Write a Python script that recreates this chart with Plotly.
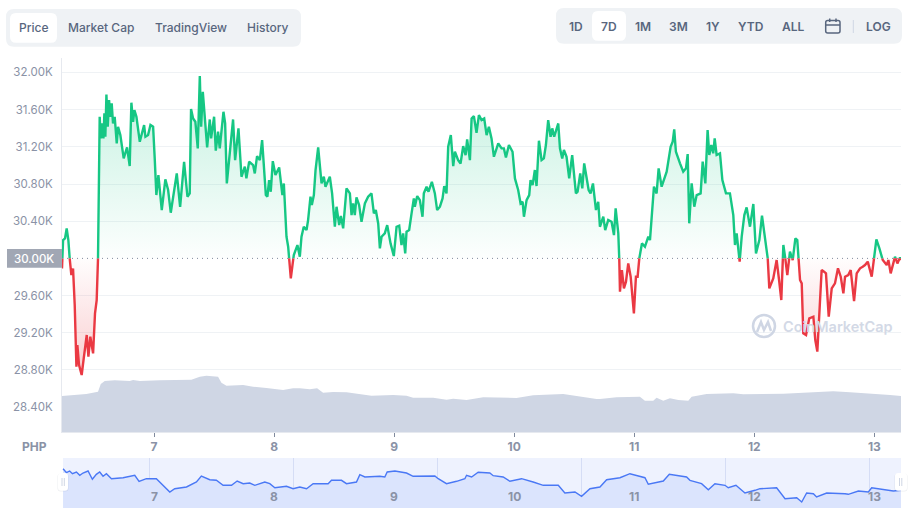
import plotly.graph_objects as go

# ---------- DATA ----------
PRICE_DAY = [
    6.233, 6.242, 6.258, 6.272, 6.286, 6.297, 6.311, 6.325, 6.339, 6.353,
    6.361, 6.375, 6.397, 6.414, 6.439, 6.453, 6.469, 6.492, 6.508, 6.522,
    6.533, 6.542, 6.547, 6.556, 6.567, 6.578, 6.586, 6.594, 6.603, 6.614,
    6.625, 6.636, 6.647, 6.658, 6.672, 6.689, 6.700, 6.719, 6.747, 6.775,
    6.797, 6.811, 6.825, 6.836, 6.853, 6.881, 6.917, 6.928, 6.950, 6.970,
    6.992, 7.006, 7.019, 7.036, 7.064, 7.094, 7.117, 7.139, 7.164, 7.189,
    7.217, 7.250, 7.278, 7.297, 7.308, 7.325, 7.344, 7.364, 7.381, 7.392,
    7.406, 7.422, 7.442, 7.464, 7.475, 7.500, 7.514, 7.533, 7.547, 7.578,
    7.592, 7.606, 7.631, 7.658, 7.675, 7.703, 7.728, 7.756, 7.769, 7.792,
    7.825, 7.839, 7.858, 7.881, 7.900, 7.914, 7.931, 7.944, 7.958, 7.972,
    7.989, 8.011, 8.042, 8.069, 8.081, 8.103, 8.117, 8.139, 8.153, 8.164,
    8.194, 8.214, 8.228, 8.247, 8.270, 8.283, 8.303, 8.314, 8.331, 8.345,
    8.367, 8.381, 8.395, 8.414, 8.428, 8.464, 8.483, 8.506, 8.520, 8.542,
    8.556, 8.575, 8.603, 8.631, 8.645, 8.658, 8.672, 8.686, 8.708, 8.728,
    8.756, 8.783, 8.811, 8.831, 8.847, 8.867, 8.881, 8.895, 8.922, 8.942,
    8.970, 8.997, 9.020, 9.042, 9.061, 9.075, 9.092, 9.103, 9.125, 9.145,
    9.164, 9.172, 9.192, 9.214, 9.236, 9.247, 9.270, 9.286, 9.314, 9.339,
    9.358, 9.381, 9.403, 9.417, 9.436, 9.450, 9.472, 9.492, 9.506, 9.533,
    9.553, 9.575, 9.595, 9.608, 9.631, 9.645, 9.664, 9.686, 9.706, 9.728,
    9.750, 9.770, 9.789, 9.811, 9.831, 9.867, 9.895, 9.914, 9.931, 9.956,
    9.986, 10.006, 10.033, 10.053, 10.070, 10.081, 10.103, 10.125, 10.136, 10.153,
    10.172, 10.186, 10.206, 10.228, 10.247, 10.264, 10.283, 10.303, 10.317, 10.333,
    10.367, 10.381, 10.400, 10.414, 10.436, 10.458, 10.483, 10.514, 10.528, 10.550,
    10.567, 10.583, 10.603, 10.620, 10.636, 10.656, 10.681, 10.700, 10.714, 10.742,
    10.758, 10.783, 10.811, 10.831, 10.845, 10.867, 10.875, 10.881, 10.897, 10.914,
    10.931, 10.950, 10.970, 10.983, 10.997, 11.014, 11.028, 11.042, 11.064, 11.089,
    11.117, 11.131, 11.145, 11.164, 11.186, 11.203, 11.228, 11.270, 11.303, 11.320,
    11.333, 11.347, 11.381, 11.408, 11.431, 11.445, 11.458, 11.478, 11.500, 11.520,
    11.553, 11.570, 11.592, 11.611, 11.625, 11.642, 11.658, 11.670, 11.686, 11.714,
    11.734, 11.764, 11.797, 11.825, 11.839, 11.853, 11.878, 11.895, 11.917, 11.936,
    11.964, 11.992, 12.014, 12.042, 12.064, 12.089, 12.111, 12.125, 12.158, 12.186,
    12.208, 12.225, 12.242, 12.258, 12.275, 12.297, 12.320, 12.342, 12.358, 12.381,
    12.395, 12.408, 12.431, 12.458, 12.492, 12.508, 12.525, 12.547, 12.561, 12.581,
    12.597, 12.620, 12.645, 12.672, 12.697, 12.720, 12.742, 12.756, 12.783, 12.803,
    12.831, 12.853, 12.881, 12.903, 12.922, 12.945, 12.978, 13.006, 13.017, 13.042,
    13.070, 13.103, 13.117, 13.136, 13.158, 13.172, 13.192, 13.214, 13.222,
]
PRICE = [
    29892, 30197, 30215, 30323, 30197, 30000, 29821, 29892, 29498, 28835,
    29068, 28853, 28746, 28925, 29176, 28943, 29158, 28979, 29409, 29552,
    30000, 31200, 31523, 31290, 31451, 31290, 31559, 31308, 31763, 31416,
    31702, 31523, 31667, 31451, 31523, 31236, 31416, 31326, 31075, 31193,
    30993, 31674, 31469, 31595, 31523, 31254, 31434, 31308, 31326, 31434,
    31416, 31057, 30681, 30896, 30520, 30850, 30735, 30491, 30717, 30914,
    30555, 31039, 30663, 30699, 31606, 31505, 31469, 31183, 31960, 31416,
    31792, 31487, 31193, 31494, 31290, 31523, 31158, 31362, 31183, 31577,
    31451, 30806, 31165, 31494, 31057, 31398, 30878, 30986, 30860, 31039,
    31003, 30914, 31100, 31057, 31272, 31021, 30681, 30663, 30842, 30717,
    31046, 30896, 30978, 30681, 30806, 30233, 30125, 29785, 29928, 30036,
    30143, 30018, 30233, 30340, 30305, 30412, 30663, 30573, 30681, 30950,
    31193, 30950, 30806, 30878, 30771, 30878, 30699, 30340, 30555, 30358,
    30455, 30323, 30753, 30699, 30466, 30591, 30466, 30656, 30573, 30394,
    30591, 30663, 30699, 30484, 30520, 30376, 30108, 30233, 30269, 30358,
    30161, 30025, 30340, 30351, 30143, 30269, 30054, 30287, 30305, 30484,
    30645, 30556, 30670, 30627, 30448, 30699, 30771, 30717, 30824, 30699,
    30520, 30556, 30645, 30778, 30699, 31201, 31326, 30993, 31147, 31057,
    31021, 31208, 31111, 31279, 31057, 31505, 31530, 31351, 31541, 31487,
    31505, 31326, 31416, 31290, 31093, 31236, 31183, 31183, 31086, 31219,
    31147, 30860, 30735, 30591, 30609, 30448, 30627, 30681, 30842, 30788,
    30950, 30778, 31265, 31057, 31075, 31219, 31487, 31308, 31398, 31308,
    31451, 31183, 31075, 31165, 31093, 30860, 31111, 30699, 30717, 30914,
    30753, 31021, 30878, 30735, 30699, 30806, 30520, 30609, 30340, 30449,
    30305, 30412, 30394, 30251, 30538, 30269, 30000, 29642, 29875, 29678,
    29749, 29946, 29803, 29624, 29409, 29803, 29803, 30000, 30161, 30125,
    30233, 30197, 30484, 30771, 30698, 30968, 30771, 30932, 31201, 31254,
    31387, 31147, 31022, 30932, 30968, 31122, 30377, 30807, 30556, 30681,
    30699, 31040, 30807, 31380, 31112, 31219, 31130, 31291, 31112, 31130,
    30843, 30699, 30699, 30466, 30144, 30269, 29966, 30233, 30466, 30549,
    30341, 30585, 30054, 30197, 30459, 30197, 30018, 29678, 29785, 29982,
    29749, 29552, 30144, 30000, 29821, 30072, 29982, 30215, 30197, 29768,
    29731, 29194, 29176, 29355, 29373, 29122, 28997, 29482, 29875, 29857,
    29839, 29373, 29678, 29731, 29893, 29803, 29624, 29803, 29821, 29875,
    29541, 29839, 29893, 29910, 29928, 29965, 29803, 30090, 30205, 30107,
    29982, 29928, 29982, 29839, 29946, 30018, 29946, 30011, 29982,
]
BASE_PRICE = 30000

VOLUME_DAY = [
    6.233, 6.347, 6.436, 6.533, 6.556, 6.589, 6.672, 6.797, 6.825, 6.881,
    7.019, 7.047, 7.311, 7.381, 7.436, 7.533, 7.561, 7.603, 7.742, 7.825,
    7.936, 8.075, 8.158, 8.214, 8.297, 8.358, 8.408, 8.492, 8.603, 8.742,
    8.811, 8.992, 9.103, 9.158, 9.325, 9.436, 9.492, 9.603, 9.742, 10.019,
    10.158, 10.408, 10.519, 10.686, 10.714, 10.853, 11.047, 11.089, 11.158, 11.186,
    11.242, 11.297, 11.367, 11.450, 11.478, 11.603, 11.825, 11.908, 12.242, 12.436,
    12.658, 12.797, 12.964, 13.131, 13.222,
]
VOLUME = [
    36, 37, 38, 40.3, 48, 51, 51.7, 51, 52, 51,
    51, 51.7, 52.3, 55.3, 56.3, 55.3, 49.3, 46.3, 47, 45.3,
    44, 42, 43.7, 43.7, 42.7, 43.7, 39.3, 40, 39.7, 37,
    36.3, 37, 36.3, 34.3, 34.3, 32.3, 33.3, 32, 34.7, 34,
    36.7, 38, 35.7, 33, 33, 34.7, 35.3, 31.3, 31.3, 34.3,
    31.3, 33.7, 32, 31.3, 35.3, 38, 38.7, 37.7, 38.3, 39.7,
    40.7, 39.7, 38.7, 37, 36,
]

NAV_DAY = [
    6.242, 6.270, 6.297, 6.320, 6.353, 6.381, 6.408, 6.450, 6.486, 6.519,
    6.547, 6.575, 6.603, 6.645, 6.742, 6.839, 6.875, 6.936, 7.019, 7.075,
    7.131, 7.172, 7.270, 7.353, 7.394, 7.464, 7.519, 7.575, 7.645, 7.692,
    7.742, 7.797, 7.839, 7.922, 7.964, 8.006, 8.103, 8.158, 8.214, 8.270,
    8.325, 8.450, 8.478, 8.561, 8.603, 8.686, 8.714, 8.756, 8.881, 8.922,
    8.942, 9.006, 9.103, 9.158, 9.339, 9.367, 9.436, 9.520, 9.589, 9.603,
    9.645, 9.700, 9.797, 9.825, 9.908, 9.964, 10.061, 10.158, 10.242, 10.367,
    10.422, 10.506, 10.561, 10.631, 10.714, 10.770, 10.881, 10.964, 11.089, 11.117,
    11.242, 11.292, 11.436, 11.464, 11.561, 11.617, 11.672, 11.756, 11.783, 11.847,
    11.922, 12.006, 12.047, 12.186, 12.256, 12.353, 12.395, 12.436, 12.492, 12.519,
    12.603, 12.756, 12.783, 12.867, 12.950, 12.978, 13.103, 13.158, 13.222,
]
NAV_VALUE = [
    39.3, 35.3, 37, 34.3, 36, 32.7, 35, 37, 28.7, 33.7,
    36, 31.7, 34.3, 29.3, 30.3, 32.7, 26.7, 29.3, 29.3, 22.7,
    16, 19.3, 21, 26, 32, 28.3, 27.7, 22.7, 22.7, 27,
    24.3, 25, 22.7, 26, 24.3, 20.3, 21.7, 19.3, 21, 19.3,
    24.3, 24.3, 27.7, 27.7, 24.3, 26, 33.3, 31, 31.7, 31,
    36, 37, 35, 31.7, 32, 29.3, 24.3, 26.7, 29.3, 32.7,
    31, 35.7, 35, 32.3, 31, 26.7, 29.3, 26, 22.7, 22.7,
    15, 16, 11.7, 19.3, 21, 28.3, 30.3, 34.3, 30.3, 23.7,
    27, 33.7, 31, 27.7, 24.3, 18.3, 24.3, 22.7, 20.3, 22.7,
    15, 17.7, 19.3, 20.3, 9.3, 10.3, 6, 15, 14.3, 11,
    15, 14.3, 13.7, 17, 16, 20.3, 17.7, 17, 17.7,
]

Y_TICKS = [28400, 28800, 29200, 29600, 30400, 30800, 31200, 31600, 32000]
Y_LABELS = ["28.40K", "28.80K", "29.20K", "29.60K", "30.40K", "30.80K", "31.20K", "31.60K", "32.00K"]
X_TICKS = [7, 8, 9, 10, 11, 12, 13]
NAV_GRID = [6.958, 8.158, 9.358, 10.558, 11.758, 12.958]

LEFT_TABS = [("Price", 33.5), ("Market Cap", 101), ("TradingView", 190.5), ("History", 267)]
RANGE_TABS = [("1D", 575.7), ("7D", 608.7), ("1M", 642.7), ("3M", 678.7), ("1Y", 713), ("YTD", 750.7), ("ALL", 793), ("LOG", 878.3)]

# ---------- CONFIG ----------
W, H = 917, 517
GREEN = "#16c784"
RED = "#ea3943"
TAB_TEXT = "#58667e"
AXIS_TEXT = "#8a92a6"
FONT = "Inter"


# ---------- HELPERS ----------
def px(x):
    return x / W


def py(y):
    return 1 - y / H


def round_rect(x0, y0, x1, y1, r):
    # rounded rectangle path in paper coordinates, arguments in page pixels
    pts = [
        f"M {px(x0 + r)} {py(y0)}", f"L {px(x1 - r)} {py(y0)}", f"Q {px(x1)} {py(y0)} {px(x1)} {py(y0 + r)}",
        f"L {px(x1)} {py(y1 - r)}", f"Q {px(x1)} {py(y1)} {px(x1 - r)} {py(y1)}",
        f"L {px(x0 + r)} {py(y1)}", f"Q {px(x0)} {py(y1)} {px(x0)} {py(y1 - r)}",
        f"L {px(x0)} {py(y0 + r)}", f"Q {px(x0)} {py(y0)} {px(x0 + r)} {py(y0)}", "Z",
    ]
    return " ".join(pts)


def box(x0, y0, x1, y1, r, fill, line=None, width=0):
    return dict(type="path", xref="paper", yref="paper", path=round_rect(x0, y0, x1, y1, r),
                fillcolor=fill, line=dict(color=line or "rgba(0,0,0,0)", width=width))


def seg(x0, y0, x1, y1, color, width=1.0, layer="above"):
    return dict(type="line", xref="paper", yref="paper", x0=px(x0), x1=px(x1), y0=py(y0), y1=py(y1),
                line=dict(color=color, width=width), layer=layer)


def label(text, x, y, size=12, color=TAB_TEXT, weight=500):
    return dict(text=text, xref="paper", yref="paper", x=px(x), y=py(y), showarrow=False,
                xanchor="center", yanchor="middle", font=dict(family=FONT, size=size, color=color, weight=weight))


def split_at_base(days, values, base):
    # adds the crossing point wherever the line passes the base price
    xs, ys = [days[0]], [values[0]]
    for i in range(1, len(days)):
        a, b = values[i - 1], values[i]
        if (a - base) * (b - base) < 0:
            t = (base - a) / (b - a)
            xs.append(days[i - 1] + t * (days[i] - days[i - 1]))
            ys.append(base)
        xs.append(days[i])
        ys.append(values[i])
    return xs, ys


# ---------- PLOT ----------
fig = go.Figure()
split_x, split_y = split_at_base(PRICE_DAY, PRICE, BASE_PRICE)

# gradient areas either side of the base price
fig.add_trace(go.Scatter(x=split_x, y=[BASE_PRICE] * len(split_x), mode="lines", line=dict(width=0), hoverinfo="skip"))
fig.add_trace(go.Scatter(
    x=split_x, y=[max(v, BASE_PRICE) for v in split_y], mode="lines", line=dict(width=0), fill="tonexty",
    fillgradient=dict(type="vertical", start=BASE_PRICE, stop=31800,
                      colorscale=[[0, "rgba(22,199,132,0.01)"], [1, "rgba(22,199,132,0.24)"]]),
    hoverinfo="skip",
))
fig.add_trace(go.Scatter(x=split_x, y=[BASE_PRICE] * len(split_x), mode="lines", line=dict(width=0), hoverinfo="skip"))
fig.add_trace(go.Scatter(
    x=split_x, y=[min(v, BASE_PRICE) for v in split_y], mode="lines", line=dict(width=0), fill="tonexty",
    fillgradient=dict(type="vertical", start=28800, stop=BASE_PRICE,
                      colorscale=[[0, "rgba(234,57,67,0.24)"], [1, "rgba(234,57,67,0.01)"]]),
    hoverinfo="skip",
))

# price line, green above and red below the base price
fig.add_trace(go.Scatter(x=split_x, y=[v if v >= BASE_PRICE else None for v in split_y], mode="lines",
                         line=dict(color=GREEN, width=2.4), connectgaps=False))
fig.add_trace(go.Scatter(x=split_x, y=[v if v <= BASE_PRICE else None for v in split_y], mode="lines",
                         line=dict(color=RED, width=2.4), connectgaps=False))

# volume
fig.add_trace(go.Scatter(x=VOLUME_DAY, y=VOLUME, yaxis="y2", mode="lines", line=dict(width=0),
                         fill="tozeroy", fillcolor="#cfd6e4"))

# navigator
fig.add_trace(go.Scatter(x=NAV_DAY, y=NAV_VALUE, xaxis="x2", yaxis="y3", mode="lines",
                         line=dict(color="#4a78f5", width=1.4), fill="tozeroy", fillcolor="#dbe4fd"))

shapes = [
    # button groups
    box(6, 9, 301, 46.7, 8, "#eff2f5"),
    box(10, 13, 57, 42.7, 6, "#ffffff"),
    box(556, 8, 902, 43.7, 8, "#eff2f5"),
    box(592, 11, 626, 40.7, 6, "#ffffff"),
    seg(853.3, 20, 853.3, 33, "#cfd6e4"),
    # calendar icon
    box(825.7, 20.5, 840, 33, 2, "rgba(0,0,0,0)", TAB_TEXT, 1.5),
    seg(825.7, 25, 840, 25, TAB_TEXT, 1.5),
    seg(829.7, 18.5, 829.7, 22, TAB_TEXT, 1.5),
    seg(836, 18.5, 836, 22, TAB_TEXT, 1.5),
    # base price line and its label box
    dict(type="line", xref="x", yref="y", x0=6.233, x1=13.222, y0=BASE_PRICE, y1=BASE_PRICE,
         line=dict(color="#808a9d", width=1, dash="1px,4px"), layer="above"),
    box(7, 249, 62, 267.7, 0, "#a1a7b4"),
    # watermark logo
    dict(type="circle", xref="paper", yref="paper", x0=px(753), x1=px(775), y0=py(315), y1=py(337),
         line=dict(color="#cfd6e4", width=2.5), layer="above"),
    dict(type="path", xref="paper", yref="paper", layer="above", line=dict(color="#cfd6e4", width=2.5),
         path=f"M {px(757)} {py(332)} L {px(761)} {py(322)} L {px(764)} {py(330)} L {px(768)} {py(322)} L {px(771)} {py(331)}"),
    # navigator background and handles
    dict(type="rect", xref="paper", yref="paper", x0=px(63), x1=px(901), y0=py(458), y1=py(508),
         fillcolor="#eef2fe", line=dict(width=0), layer="below"),
    box(57.5, 473.5, 68.5, 491.5, 3, "rgba(88,102,126,0.10)"),
    box(58, 473, 68, 490.7, 3, "#ffffff"),
    seg(62, 478, 62, 486, "#cfd6e4"),
    seg(64.3, 478, 64.3, 486, "#cfd6e4"),
    box(894.5, 473.5, 907.5, 491.5, 3, "rgba(88,102,126,0.10)"),
    box(895, 473, 907, 490.7, 3, "#ffffff"),
    seg(899.5, 478, 899.5, 486, "#cfd6e4"),
    seg(901.8, 478, 901.8, 486, "#cfd6e4"),
]

annotations = [label(t, x, 27.5) for t, x in LEFT_TABS]
annotations += [label(t, x, 26.7, weight=600) for t, x in RANGE_TABS]
annotations += [
    label("30.00K", 34, 258.5, size=11.5, color="#ffffff"),
    label("PHP", 34.5, 446, size=12, color=AXIS_TEXT, weight=700),
    label("CoinMarketCap", 837.5, 326.7, size=14.5, color="#d3d9e6", weight=600),
]
for day in X_TICKS:
    annotations.append(dict(text=str(day), xref="x2", yref="y3", x=day, y=12, showarrow=False,
                            font=dict(family=FONT, size=12, color=AXIS_TEXT, weight=700)))

# ---------- FINAL LAYOUT ----------
fig.update_layout(
    width=W, height=H,
    margin=dict(l=0, r=0, t=0, b=0),
    paper_bgcolor="white", plot_bgcolor="white",
    showlegend=False,
    shapes=shapes,
    annotations=annotations,
    xaxis=dict(
        domain=[px(62), px(901)], range=[6.233, 13.222],
        tickmode="array", tickvals=X_TICKS, ticktext=[str(d) for d in X_TICKS],
        ticks="outside", ticklen=4, tickcolor="#808a9d", showgrid=False, zeroline=False,
        showline=True, linecolor="#e6e9ef", linewidth=1,
        tickfont=dict(family=FONT, size=12, color=AXIS_TEXT, weight=700),
    ),
    yaxis=dict(
        domain=[py(432), py(58)], range=[28133, 32155],
        tickmode="array", tickvals=Y_TICKS, ticktext=Y_LABELS,
        ticks="outside", ticklen=6, tickcolor="rgba(0,0,0,0)", gridcolor="#eff2f5", zeroline=False,
        showline=True, linecolor="#e6e9ef", linewidth=1,
        tickfont=dict(family=FONT, size=11.5, color=AXIS_TEXT),
    ),
    yaxis2=dict(overlaying="y", range=[0, 374], visible=False),
    xaxis2=dict(
        domain=[px(62), px(901)], range=[6.233, 13.222], anchor="y3",
        tickmode="array", tickvals=NAV_GRID, showticklabels=False, ticks="",
        showgrid=True, gridcolor="#d5ddf5", zeroline=False, layer="above traces",
    ),
    yaxis3=dict(domain=[py(508), py(458)], range=[0, 50], anchor="x2", visible=False),
)

# ---------- EXPORT ----------
fig.write_html("out.html", config={"displayModeBar": False},
               post_script="document.body.style.margin='0';")
